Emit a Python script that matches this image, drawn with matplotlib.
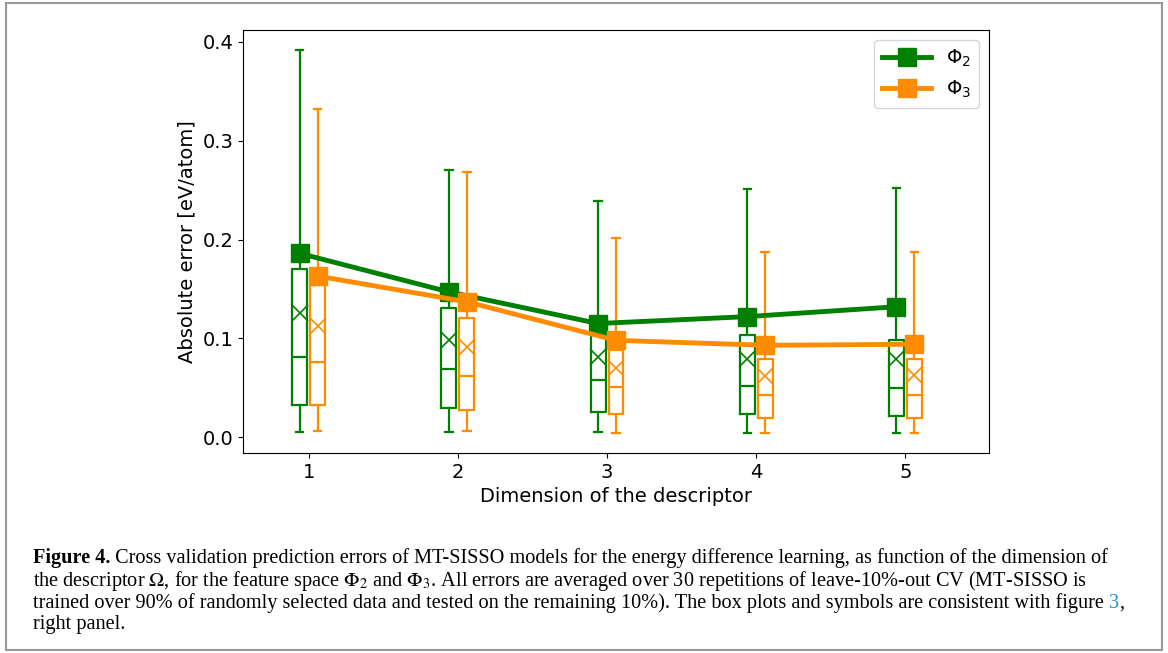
import numpy as np
import matplotlib.pyplot as plt
from matplotlib.patches import Rectangle

# data -------------------------------------------------------------------------
dims = [1, 2, 3, 4, 5]

# Phi_2 (green)
phi2_mae = [0.186, 0.147, 0.115, 0.122, 0.132]
phi2_whishi = [0.392, 0.270, 0.239, 0.251, 0.252]
phi2_q3 = [0.170, 0.131, 0.104, 0.103, 0.098]
phi2_mean = [0.126, 0.098, 0.081, 0.079, 0.079]
phi2_med = [0.081, 0.069, 0.058, 0.052, 0.050]
phi2_q1 = [0.033, 0.030, 0.025, 0.023, 0.021]
phi2_whislo = [0.005, 0.005, 0.005, 0.004, 0.004]

# Phi_3 (orange)
phi3_mae = [0.163, 0.137, 0.098, 0.093, 0.094]
phi3_whishi = [0.332, 0.268, 0.202, 0.187, 0.187]
phi3_q3 = [0.154, 0.121, 0.088, 0.079, 0.079]
phi3_mean = [0.112, 0.091, 0.070, 0.062, 0.063]
phi3_med = [0.076, 0.062, 0.051, 0.043, 0.043]
phi3_q1 = [0.033, 0.028, 0.023, 0.019, 0.019]
phi3_whislo = [0.006, 0.006, 0.004, 0.004, 0.004]

W, H = 1168, 653
fig = plt.figure(figsize=(W / 100, H / 100), dpi=100)
fig.add_artist(Rectangle((6 / W, 3 / H), 1156 / W, 647 / H, transform=fig.transFigure,
                         fill=False, edgecolor='#999999', lw=1.5))

ax = fig.add_axes([243 / W, 1 - 453 / H, (989 - 243) / W, (453 - 30) / H])


def make_stats(lo, q1, med, mean, q3, hi):
    return [dict(whislo=a, q1=b, med=c, mean=d, q3=e, whishi=f, fliers=[])
            for a, b, c, d, e, f in zip(lo, q1, med, mean, q3, hi)]


series = [
    ('green', -0.06, r'$\Phi_2$', phi2_mae,
     make_stats(phi2_whislo, phi2_q1, phi2_med, phi2_mean, phi2_q3, phi2_whishi)),
    ('darkorange', 0.06, r'$\Phi_3$', phi3_mae,
     make_stats(phi3_whislo, phi3_q1, phi3_med, phi3_mean, phi3_q3, phi3_whishi)),
]

for col, off, lab, mae, stats in series:
    pos = np.array(dims) + off
    lp = dict(color=col, lw=1.6)
    ax.bxp(stats, positions=pos, widths=0.1, showmeans=True, showfliers=False,
           manage_ticks=False,
           boxprops=lp, whiskerprops=lp, capprops=lp, medianprops=lp,
           meanprops=dict(marker='x', markeredgecolor=col, markersize=11, markeredgewidth=1.2))
    ax.plot(pos, mae, '-s', color=col, lw=3.5, ms=13, label=lab, zorder=5)

ax.set_xlim(0.56, 5.56)
ax.set_ylim(-0.016, 0.412)
ax.set_xticks(dims)
ax.set_yticks([0.0, 0.1, 0.2, 0.3, 0.4])
ax.tick_params(labelsize=14)
ax.set_xlabel('Dimension of the descriptor', fontsize=14)
ax.set_ylabel('Absolute error [eV/atom]', fontsize=14)
ax.legend(loc='upper right', fontsize=14, handlelength=2.5)

# caption ---------------------------------------------------------------------
cap_font = dict(family='Liberation Serif', fontsize=14.6, math_fontfamily='stix')
x0 = 33 / W


def ypx(p):
    return 1 - p / H


t = fig.text(x0, ypx(563), 'Figure 4.', fontweight='bold', va='baseline', **cap_font)
ax.annotate(' Cross validation prediction errors of MT-SISSO models for the energy difference '
            'learning, as function of the dimension of',
            xy=(1, 0), xycoords=t, va='bottom', annotation_clip=False, **cap_font)
fig.text(x0, ypx(586), r'the descriptor $\Omega$, for the feature space $\Phi_2$ and $\Phi_3$. '
         'All errors are averaged over 30 repetitions of leave-10%-out CV (MT-SISSO is',
         va='baseline', **cap_font)
t = fig.text(x0, ypx(608), 'trained over 90% of randomly selected data and tested on the '
             'remaining 10%). The box plots and symbols are consistent with figure ',
             va='baseline', **cap_font)
t = ax.annotate('3', xy=(1, 0), xycoords=t, va='bottom', color='#2a8fc7',
                annotation_clip=False, **cap_font)
ax.annotate(',', xy=(1, 0), xycoords=t, va='bottom', annotation_clip=False, **cap_font)
fig.text(x0, ypx(629), 'right panel.', va='baseline', **cap_font)

fig.savefig('out.png', dpi=100)
